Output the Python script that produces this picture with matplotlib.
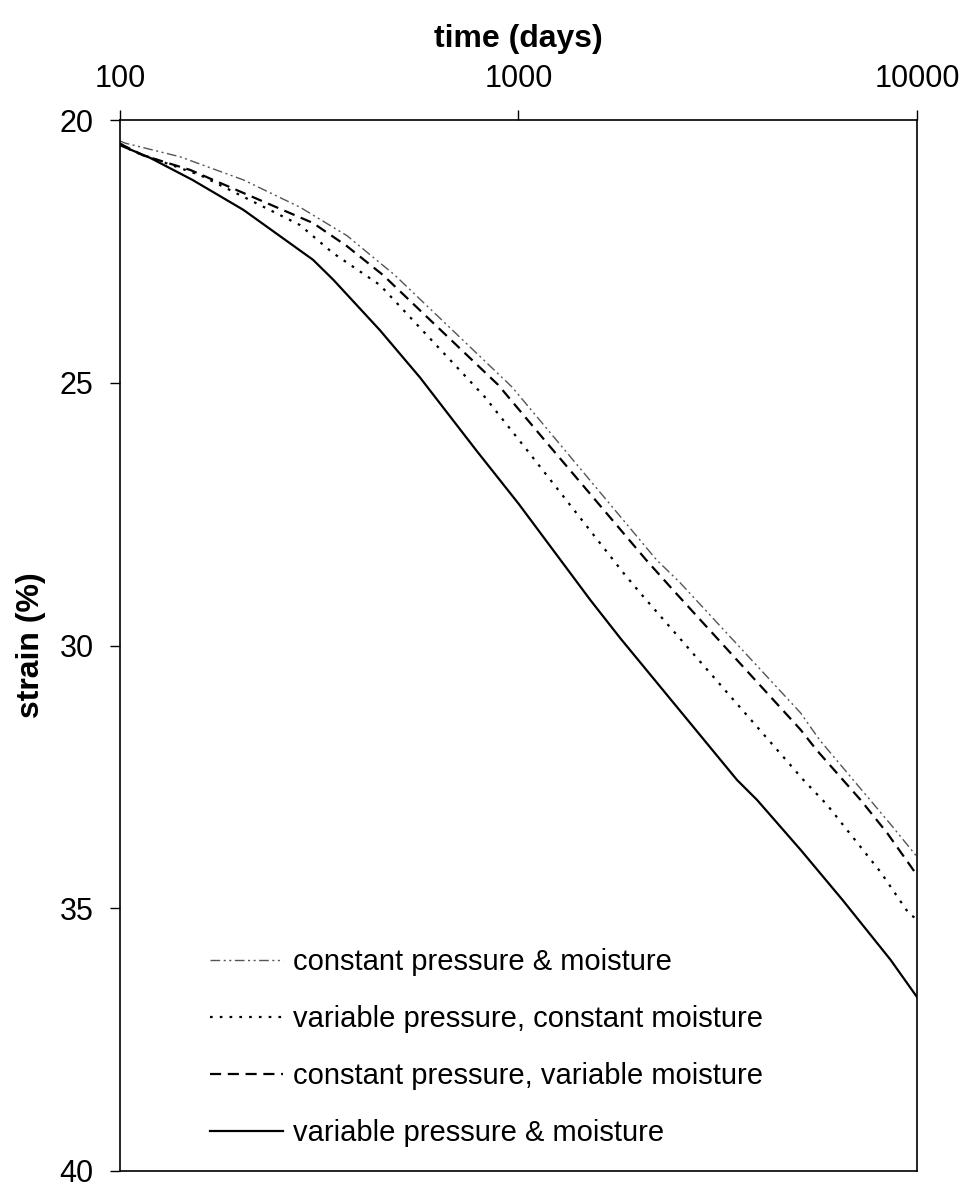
import matplotlib
matplotlib.use('Agg')
import matplotlib.pyplot as plt

plt.rcParams['font.family'] = ['Liberation Sans', 'DejaVu Sans']

# constant pressure & moisture (dash-dot)
t_cpm = [100, 103, 141.5, 204, 283, 371, 489, 963, 2220, 2540, 5100, 5700, 8580, 10000]
s_cpm = [20.40, 20.44, 20.70, 21.14, 21.66, 22.20, 22.95, 25.08, 28.37, 28.80, 31.28, 31.80, 33.40, 34.02]

# variable pressure, constant moisture (dotted)
t_vpcm = [100, 108, 159, 283, 342, 449, 823, 1050, 1834, 2020, 5190, 5945, 6500, 8100, 9580, 10000]
s_vpcm = [20.45, 20.60, 21.05, 22.00, 22.53, 23.14, 25.27, 26.28, 28.62, 29.00, 32.56, 33.03, 33.40, 34.31, 35.12, 35.20]

# constant pressure, variable moisture (dashed)
t_cpvm = [100, 114, 150, 216, 305, 371, 457, 889, 1180, 2090, 2440, 5100, 5600, 7220, 8420, 10000]
s_cpvm = [20.45, 20.67, 20.95, 21.47, 21.96, 22.40, 22.95, 25.04, 26.15, 28.37, 28.94, 31.60, 31.99, 32.94, 33.57, 34.37]

# variable pressure & moisture (solid)
t_vpm = [100, 119, 152, 204, 305, 343, 449, 566, 786, 1000, 1513, 1800, 3536, 3970, 5120, 6500, 8580, 10000]
s_vpm = [20.48, 20.72, 21.14, 21.71, 22.66, 23.04, 24.00, 24.90, 26.30, 27.30, 29.13, 29.86, 32.56, 32.94, 33.90, 34.84, 35.98, 36.69]

x_ticks = [100, 1000, 10000]
x_labels = ['100', '1000', '10000']
y_ticks = [20, 25, 30, 35, 40]

fig = plt.figure(figsize=(9.73, 11.88), dpi=100)
ax = fig.add_axes([120 / 973, 1 - 1171 / 1188, 797 / 973, 1051 / 1188])

ax.plot(t_cpm, s_cpm, color='#555555', linewidth=1.0, dashes=(7, 2.5, 1.5, 2.5, 1.5, 2.5),
        label='constant pressure & moisture')
ax.plot(t_vpcm, s_vpcm, color='black', linewidth=1.6, dashes=(1.2, 3.2),
        label='variable pressure, constant moisture')
ax.plot(t_cpvm, s_cpvm, color='black', linewidth=1.6, dashes=(5, 3),
        label='constant pressure, variable moisture')
ax.plot(t_vpm, s_vpm, color='black', linewidth=1.6, label='variable pressure & moisture')

ax.set_xscale('log')
ax.set_xlim(100, 10000)
ax.set_ylim(40, 20)
ax.minorticks_off()
ax.set_xticks(x_ticks)
ax.set_xticklabels(x_labels)
ax.set_yticks(y_ticks)
ax.xaxis.tick_top()
ax.xaxis.set_label_position('top')
ax.tick_params(axis='x', direction='out', length=7, width=1, labelsize=22, pad=12)
ax.tick_params(axis='y', direction='out', length=7, width=1, labelsize=22, pad=12)
ax.tick_params(which='minor', length=0)
for sp in ax.spines.values():
    sp.set_linewidth(1.2)

ax.set_xlabel('time (days)', fontsize=23, fontweight='bold', labelpad=12,
              family=['Liberation Sans Narrow', 'Liberation Sans'])
ax.set_ylabel('strain (%)', fontsize=23, fontweight='bold', labelpad=10,
              family=['Liberation Sans Narrow', 'Liberation Sans'])

ax.legend(loc='upper left', bbox_to_anchor=(0.113, 0.212), frameon=False, fontsize=21,
          handlelength=2.5, handletextpad=0.35, labelspacing=0.99, borderpad=0, borderaxespad=0)

fig.savefig('out.png', dpi=100)
